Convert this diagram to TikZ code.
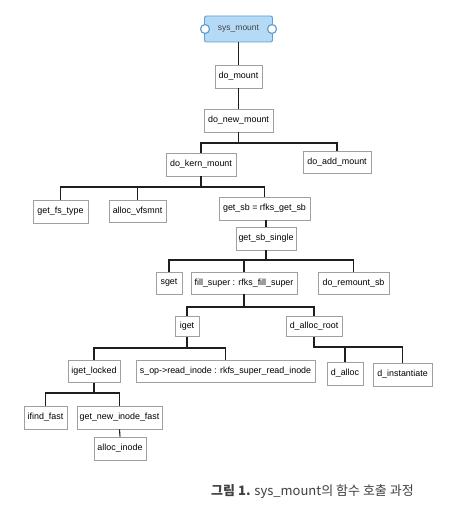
\documentclass[tikz,border=0pt]{standalone}
\usepackage{fontspec}
\setmainfont{Liberation Sans}
\newfontfamily\krfont{Noto Sans CJK KR}
\definecolor{boxline}{HTML}{A0A0A0}
\definecolor{sysfill}{HTML}{B5DAF6}
\definecolor{sysline}{HTML}{5E9FD6}
\definecolor{linec}{HTML}{1E1E1E}
\definecolor{capc}{HTML}{404040}
\begin{document}
\begin{tikzpicture}[x=1pt,y=-1pt,
  fn/.style={draw=boxline,line width=0.8pt,fill=white,inner sep=0pt,font=\fontsize{8.9}{10}\selectfont,text=black},
  conn/.style={draw=linec,line width=1.1pt},
  port/.style={circle,draw=sysline,fill=white,line width=1.2pt,minimum size=9pt,inner sep=0pt}]
\useasboundingbox (0,0) rectangle (456,513);
\fill[white] (0,0) rectangle (456,513);
% root
\node[draw=sysline,fill=sysfill,line width=0.9pt,rounded corners=2pt,minimum width=68pt,minimum height=26pt,inner sep=0pt,font=\fontsize{8.5}{10}\selectfont,text=black!75] (sys) at (238.5,29) {sys\_mount};
\node[port] (pl) at (205,29) {};
\node[port] (pr) at (272,29) {};
% nodes
\node[fn,minimum width=47pt,minimum height=23pt] (dm) at (238.5,76.5) {do\_mount};
\node[fn,minimum width=69pt,minimum height=23pt] (dnm) at (238.5,120.5) {do\_new\_mount};
\node[fn,minimum width=70pt,minimum height=23pt] (kern) at (201,164.5) {do\_kern\_mount};
\node[fn,minimum width=68pt,minimum height=22pt] (add) at (337,162) {do\_add\_mount};
\node[fn,minimum width=55pt,minimum height=23pt] (fs) at (60.5,211.5) {get\_fs\_type};
\node[fn,minimum width=57pt,minimum height=22pt] (vfs) at (137.5,211) {alloc\_vfsmnt};
\node[fn,minimum width=91pt,minimum height=23pt] (getsb) at (264.5,208.5) {get\_sb = rfks\_get\_sb};
\node[fn,minimum width=60pt,minimum height=23pt] (single) at (266,238.5) {get\_sb\_single};
\node[fn,minimum width=26pt,minimum height=22pt] (sget) at (169,283) {sget};
\node[fn,minimum width=106pt,minimum height=22pt] (fill) at (244,283) {fill\_super : rfks\_fill\_super};
\node[fn,minimum width=71pt,minimum height=22pt] (remount) at (353.5,283) {do\_remount\_sb};
\node[fn,minimum width=24pt,minimum height=20pt] (iget) at (187,326.5) {iget};
\node[fn,minimum width=56pt,minimum height=20pt] (droot) at (314,326.5) {d\_alloc\_root};
\node[fn,minimum width=52pt,minimum height=22pt] (ilock) at (94,371.5) {iget\_locked};
\node[fn,minimum width=179pt,minimum height=22pt] (sop) at (225.5,371) {s\_op->read\_inode : rkfs\_super\_read\_inode};
\node[fn,minimum width=36pt,minimum height=23pt] (dalloc) at (345,373.5) {d\_alloc};
\node[fn,minimum width=59pt,minimum height=23pt] (dinst) at (402.5,374.5) {d\_instantiate};
\node[fn,minimum width=43pt,minimum height=23pt] (ifind) at (45.5,417.5) {ifind\_fast};
\node[fn,minimum width=85pt,minimum height=23pt] (newino) at (119.5,417.5) {get\_new\_inode\_fast};
\node[fn,minimum width=52pt,minimum height=23pt] (allocino) at (120,448.5) {alloc\_inode};
% bus levels
\coordinate (b1) at (0,143);
\coordinate (b2) at (0,187);
\coordinate (b3) at (0,260);
\coordinate (b4) at (0,307);
\coordinate (b5) at (0,348);
\coordinate (b6) at (0,393);
% connectors
\draw[conn] (sys.south) -- (dm.north);
\draw[conn] (dm.south) -- (dnm.north);
\draw[conn] (dnm.south) -- (dnm.south |- b1);
\draw[conn] (kern.north) -- (kern.north |- b1) -| (add.north);
\draw[conn] (kern.south) -- (kern.south |- b2);
\draw[conn] (fs.north) -- (fs.north |- b2) -| (getsb.north);
\draw[conn] (vfs.north) -- (vfs.north |- b2);
\draw[conn] (getsb.south) -- (getsb.south -| single.north) -- (single.north);
\draw[conn] (single.south) -- (single.south |- b3);
\draw[conn] (sget.north) -- (sget.north |- b3) -| (remount.north);
\draw[conn] (fill.north) -- (fill.north |- b3);
\draw[conn] (fill.south) -- (fill.south |- b4);
\draw[conn] (iget.north) -- (iget.north |- b4) -| (droot.north);
\draw[conn] (iget.south) -- (iget.south |- b5);
\draw[conn] (ilock.north) -- (ilock.north |- b5) -| (sop.north);
\draw[conn] (droot.south) -- (droot.south |- 0,347) -| (dinst.north);
\draw[conn] (dalloc.north) -- (dalloc.north |- 0,347);
\draw[conn] (ilock.south) -- (ilock.south |- b6);
\draw[conn] (ifind.north) -- (ifind.north |- b6) -| (newino.north);
\draw[conn] (newino.south) -- (allocino.north);
% caption
\node[anchor=west,inner sep=0pt,text=capc,font=\krfont\fontsize{13}{15}\selectfont] (cap) at (211,492) {\textbf{그림 1.} sys\_mount의 함수 호출 과정};
\end{tikzpicture}
\end{document}
